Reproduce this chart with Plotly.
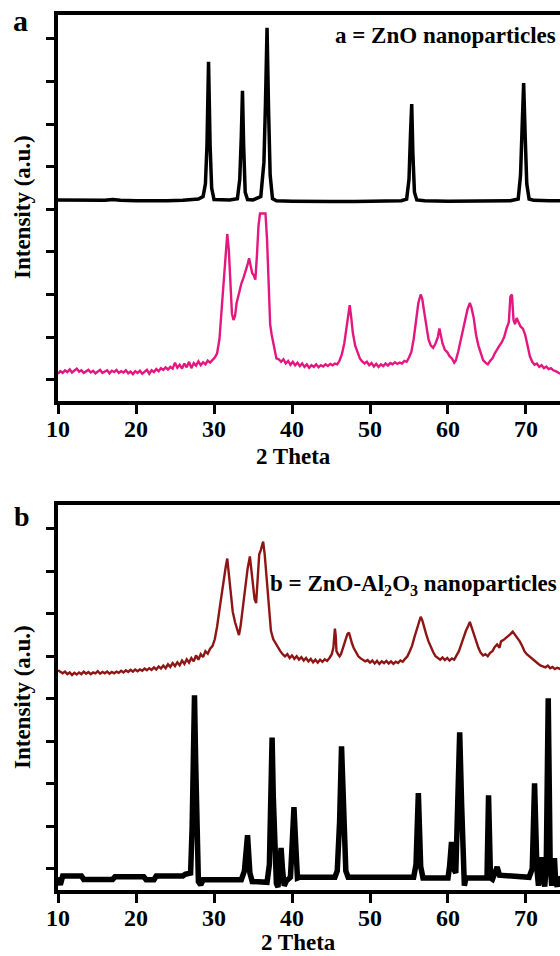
import plotly.graph_objects as go

W, H = 560, 956

# ---------------- Panel a data ----------------
zno_x = [10, 12, 14, 16, 17, 18, 20, 22, 24, 26, 27, 28, 28.6, 28.9, 29.1, 29.3, 29.5, 29.7, 30.0,
         31, 32, 33.0, 33.3, 33.5, 33.65, 33.8, 34.0, 34.3, 35, 36.0, 36.4, 36.6, 36.8, 37.0, 37.2,
         37.5, 38, 40, 42, 45, 48, 50, 52, 54, 54.7, 55.0, 55.2, 55.35, 55.5, 55.7, 56.0, 57, 60,
         63, 66, 68, 69.0, 69.3, 69.5, 69.7, 69.9, 70.1, 70.4, 71, 73, 74.4]
zno_y = [4.72, 4.71, 4.70, 4.71, 4.73, 4.71, 4.70, 4.69, 4.70, 4.71, 4.73, 4.74, 4.80, 5.10, 6.00,
         7.96, 6.00, 5.00, 4.73, 4.72, 4.72, 4.75, 5.20, 6.20, 7.28, 6.00, 4.90, 4.73, 4.72, 4.80,
         5.60, 7.00, 8.76, 6.80, 5.30, 4.75, 4.70, 4.69, 4.68, 4.68, 4.68, 4.69, 4.70, 4.70, 4.74,
         5.20, 6.30, 6.97, 5.80, 4.90, 4.72, 4.70, 4.69, 4.69, 4.69, 4.70, 4.74, 5.30, 6.40, 7.46,
         6.20, 5.10, 4.74, 4.71, 4.70, 4.70]

pink_x = [10.0, 10.3, 10.6, 10.9, 11.2, 11.5, 11.8, 12.1, 12.4, 12.7, 13.0, 13.3, 13.6, 13.9, 14.2,
          14.5, 14.8, 15.1, 15.4, 15.7, 16.0, 16.3, 16.6, 16.9, 17.2, 17.5, 17.8, 18.1, 18.4, 18.7,
          19.0, 19.3, 19.6, 19.9, 20.2, 20.5, 20.8, 21.1, 21.4, 21.7, 22.0, 22.3, 22.6, 22.9, 23.2,
          23.5, 23.8, 24.1, 24.4, 24.7, 25.0, 25.3, 25.6, 25.9, 26.2, 26.5, 26.8, 27.1, 27.4, 27.7,
          28.0, 28.3, 28.6, 28.9, 29.2, 29.5, 29.8, 30.1, 30.4, 30.7, 31.0, 31.3, 31.5, 31.7, 31.9,
          32.1, 32.3, 32.5, 32.7, 32.9, 33.2, 33.5, 33.8, 34.1, 34.3, 34.5, 34.7, 34.9, 35.1, 35.3,
          35.5, 35.7, 35.9, 36.2, 36.6, 36.8, 37.0, 37.2, 37.4, 37.7, 38.0, 38.3, 38.6, 38.9, 39.2,
          39.5, 39.8, 40.1, 40.4, 40.7, 41.0, 41.3, 41.6, 41.9, 42.2, 42.5, 42.8, 43.1, 43.4, 43.7,
          44.0, 44.3, 44.6, 44.9, 45.2, 45.5, 45.8, 46.1, 46.4, 46.7, 47.0, 47.2, 47.4, 47.6, 47.8,
          48.1, 48.4, 48.7, 49.0, 49.3, 49.6, 49.9, 50.2, 50.5, 50.8, 51.1, 51.4, 51.7, 52.0, 52.3,
          52.6, 52.9, 53.2, 53.5, 53.8, 54.1, 54.4, 54.7, 55.0, 55.3, 55.6, 55.9, 56.2, 56.5, 56.7,
          56.9, 57.2, 57.5, 57.8, 58.1, 58.4, 58.7, 58.9, 59.1, 59.3, 59.6, 59.9, 60.2, 60.5, 60.8,
          61.0, 61.3, 61.6, 61.9, 62.2, 62.5, 62.8, 63.0, 63.3, 63.6, 63.9, 64.2, 64.5, 64.8, 65.1,
          65.4, 65.7, 66.0, 66.3, 66.6, 66.9, 67.2, 67.5, 67.8, 68.0, 68.2, 68.4, 68.6, 68.8, 69.0,
          69.3, 69.6, 69.9, 70.2, 70.5, 70.8, 71.1, 71.4, 71.7, 72.0, 72.3, 72.6, 72.9, 73.2, 73.5,
          73.8, 74.1, 74.4]
pink_y = [0.64, 0.70, 0.66, 0.72, 0.68, 0.74, 0.67, 0.71, 0.76, 0.69, 0.72, 0.66, 0.70, 0.73, 0.67,
          0.71, 0.65, 0.69, 0.73, 0.66, 0.70, 0.72, 0.65, 0.71, 0.68, 0.73, 0.66, 0.70, 0.67, 0.72,
          0.65, 0.69, 0.63, 0.70, 0.66, 0.71, 0.64, 0.69, 0.73, 0.64, 0.72, 0.68, 0.75, 0.70, 0.77,
          0.73, 0.79, 0.74, 0.80, 0.76, 0.90, 0.78, 0.85, 0.76, 0.88, 0.79, 0.92, 0.77, 0.89, 0.83,
          0.93, 0.84, 0.91, 0.86, 0.95, 0.90, 0.97, 1.02, 1.12, 1.45, 2.20, 3.00, 3.60, 3.92, 3.55,
          2.60, 2.05, 1.90, 2.00, 2.30, 2.55, 2.75, 2.90, 3.05, 3.20, 3.35, 3.20, 3.00, 2.95, 2.85,
          3.40, 4.10, 4.40, 4.40, 4.40, 3.80, 2.60, 1.80, 1.55, 1.25, 1.00, 0.98, 0.92, 0.98, 0.88,
          0.94, 0.85, 0.92, 0.84, 0.90, 0.82, 0.88, 0.80, 0.86, 0.78, 0.84, 0.80, 0.86, 0.79, 0.84,
          0.81, 0.86, 0.82, 0.87, 0.84, 0.88, 0.86, 0.95, 1.10, 1.35, 1.75, 2.10, 2.25, 1.95, 1.60,
          1.30, 1.12, 1.00, 0.93, 0.88, 0.92, 0.84, 0.89, 0.81, 0.87, 0.80, 0.86, 0.82, 0.88, 0.83,
          0.89, 0.86, 0.91, 0.87, 0.90, 0.88, 0.94, 0.92, 1.02, 1.15, 1.45, 1.90, 2.30, 2.50, 2.40,
          2.15, 1.75, 1.45, 1.30, 1.25, 1.35, 1.50, 1.70, 1.55, 1.35, 1.20, 1.15, 1.05, 1.00, 0.90,
          0.95, 1.15, 1.40, 1.70, 1.95, 2.15, 2.30, 2.20, 1.95, 1.55, 1.30, 1.10, 0.96, 0.90, 0.86,
          0.94, 1.00, 1.12, 1.22, 1.30, 1.38, 1.50, 1.70, 1.85, 2.45, 2.50, 1.90, 1.80, 1.95, 1.85,
          1.75, 1.70, 1.55, 1.30, 1.05, 0.92, 0.85, 0.88, 0.80, 0.84, 0.77, 0.81, 0.75, 0.77, 0.72,
          0.70, 0.67, 0.64]

# ---------------- Panel b data ----------------
znal_x = [10.0, 10.3, 10.6, 10.9, 11.2, 11.5, 11.8, 12.1, 12.4, 12.7, 13.0, 13.3, 13.6, 13.9, 14.2,
          14.5, 14.8, 15.1, 15.4, 15.7, 16.0, 16.3, 16.6, 16.9, 17.2, 17.5, 17.8, 18.1, 18.4, 18.7,
          19.0, 19.3, 19.6, 19.9, 20.2, 20.5, 20.8, 21.1, 21.4, 21.7, 22.0, 22.3, 22.6, 22.9, 23.2,
          23.5, 23.8, 24.1, 24.4, 24.7, 25.0, 25.3, 25.6, 25.9, 26.2, 26.5, 26.8, 27.1, 27.4, 27.7,
          28.0, 28.3, 28.6, 28.9, 29.2, 29.5, 29.8, 30.1, 30.4, 30.7, 31.0, 31.3, 31.5, 31.7, 31.9,
          32.1, 32.4, 32.7, 33.0, 33.2, 33.4, 33.7, 34.0, 34.3, 34.6, 34.8, 35.0, 35.2, 35.4, 35.6,
          35.8, 36.0, 36.3, 36.5, 36.8, 37.0, 37.3, 37.6, 37.9, 38.2, 38.5, 38.8, 39.1, 39.4, 39.7,
          40.0, 40.3, 40.6, 40.9, 41.2, 41.5, 41.8, 42.1, 42.4, 42.7, 43.0, 43.3, 43.6, 43.9, 44.2,
          44.5, 44.8, 45.1, 45.3, 45.5, 45.6, 45.7, 45.9, 46.1, 46.3, 46.6, 46.9, 47.1, 47.3, 47.5,
          47.7, 47.9, 48.2, 48.5, 48.8, 49.1, 49.4, 49.7, 50.0, 50.3, 50.6, 50.9, 51.2, 51.5, 51.8,
          52.1, 52.4, 52.7, 53.0, 53.3, 53.6, 53.9, 54.2, 54.5, 54.8, 55.1, 55.4, 55.7, 56.0, 56.3,
          56.5, 56.7, 56.9, 57.2, 57.5, 57.8, 58.1, 58.4, 58.7, 59.0, 59.3, 59.6, 59.9, 60.2, 60.5,
          60.8, 61.1, 61.4, 61.7, 62.0, 62.3, 62.6, 62.8, 63.0, 63.3, 63.6, 63.9, 64.2, 64.5, 64.8,
          65.1, 65.4, 65.7, 66.0, 66.3, 66.6, 66.8, 67.1, 67.4, 67.7, 68.0, 68.3, 68.6, 68.9, 69.2,
          69.5, 69.8, 70.1, 70.4, 70.7, 71.0, 71.3, 71.6, 71.9, 72.2, 72.5, 72.8, 73.1, 73.4, 73.7,
          74.0, 74.4]
znal_y = [5.17, 5.13, 5.10, 5.14, 5.08, 5.12, 5.06, 5.11, 5.07, 5.12, 5.08, 5.14, 5.09, 5.13, 5.08,
          5.12, 5.10, 5.15, 5.09, 5.13, 5.10, 5.14, 5.09, 5.13, 5.10, 5.14, 5.11, 5.16, 5.12, 5.17,
          5.13, 5.18, 5.14, 5.19, 5.15, 5.19, 5.16, 5.21, 5.17, 5.22, 5.18, 5.24, 5.19, 5.26, 5.21,
          5.28, 5.22, 5.31, 5.25, 5.34, 5.27, 5.36, 5.29, 5.40, 5.32, 5.43, 5.35, 5.46, 5.38, 5.52,
          5.42, 5.55, 5.48, 5.62, 5.56, 5.68, 5.74, 5.90, 6.20, 6.60, 7.00, 7.40, 7.60, 7.80, 7.45,
          6.95, 6.55, 6.30, 6.10, 6.00, 6.20, 6.70, 7.20, 7.55, 7.85, 7.50, 7.10, 6.85, 6.75, 7.30,
          7.90, 8.00, 8.20, 7.90, 7.20, 6.60, 6.10, 5.90, 5.80, 5.70, 5.62, 5.55, 5.50, 5.55, 5.46,
          5.52, 5.44, 5.50, 5.42, 5.48, 5.40, 5.46, 5.38, 5.44, 5.36, 5.42, 5.35, 5.42, 5.37, 5.43,
          5.39, 5.46, 5.55, 5.70, 6.15, 6.00, 5.62, 5.55, 5.50, 5.56, 5.75, 5.90, 6.02, 6.06, 5.90,
          5.80, 5.70, 5.58, 5.50, 5.45, 5.42, 5.38, 5.41, 5.35, 5.40, 5.33, 5.39, 5.32, 5.38, 5.34,
          5.39, 5.33, 5.38, 5.32, 5.37, 5.34, 5.40, 5.37, 5.44, 5.50, 5.62, 5.75, 5.95, 6.15, 6.30,
          6.43, 6.35, 6.20, 6.02, 5.85, 5.70, 5.60, 5.50, 5.46, 5.42, 5.47, 5.41, 5.46, 5.40, 5.45,
          5.42, 5.52, 5.62, 5.78, 5.95, 6.10, 6.22, 6.31, 6.20, 6.02, 5.85, 5.70, 5.58, 5.52, 5.55,
          5.50, 5.58, 5.62, 5.72, 5.78, 5.70, 5.85, 5.88, 5.92, 5.98, 6.02, 6.08, 6.00, 5.95, 5.85,
          5.75, 5.62, 5.55, 5.50, 5.45, 5.42, 5.35, 5.32, 5.28, 5.26, 5.24, 5.28, 5.22, 5.25, 5.20,
          5.23, 5.20]

ref_x = [10.0, 10.3, 10.6, 13.0, 13.3, 17.0, 17.3, 21.0, 21.3, 22.3, 22.6, 26.0, 26.3, 27.0, 27.2,
         27.35, 27.5, 27.65, 27.8, 28.0, 28.3, 28.6, 33.5, 33.9, 34.3, 34.6, 34.9, 36.8, 37.1, 37.3,
         37.45, 37.6, 37.8, 38.0, 38.2, 38.4, 38.6, 38.8, 39.0, 39.3, 39.8, 40.0, 40.25, 40.5, 40.7,
         41.0, 45.5, 45.8, 46.1, 46.35, 46.6, 46.9, 47.2, 55.6, 55.9, 56.2, 56.5, 56.8, 60.0, 60.2,
         60.45, 60.7, 61.0, 61.25, 61.5, 61.75, 61.95, 62.1, 62.3, 65.0, 65.2, 65.45, 65.7, 66.0,
         66.3, 66.6, 69.5, 70.4, 70.8, 71.1, 71.4, 71.6, 71.8, 72.0, 72.2, 72.4, 72.6, 72.85, 73.1,
         73.3, 73.5, 73.65, 73.8, 74.0, 74.2, 74.4]
ref_y = [0.30, 0.12, 0.33, 0.33, 0.25, 0.25, 0.31, 0.31, 0.24, 0.24, 0.33, 0.33, 0.37, 0.40, 1.50,
         3.20, 4.58, 3.00, 1.20, 0.20, 0.12, 0.24, 0.24, 0.45, 1.29, 0.40, 0.20, 0.18, 0.60, 2.00,
         3.59, 2.20, 0.80, 0.15, 0.07, 0.60, 0.99, 0.45, 0.10, 0.22, 0.30, 1.00, 1.95, 1.00, 0.28,
         0.30, 0.30, 0.45, 1.60, 3.38, 1.80, 0.45, 0.30, 0.30, 0.60, 2.28, 0.55, 0.28, 0.28, 0.55,
         1.13, 0.50, 0.40, 2.00, 3.71, 2.00, 0.40, 0.10, 0.28, 0.28, 2.23, 0.28, 0.25, 0.40,
         0.54, 0.35, 0.30, 0.30, 0.50, 2.51, 0.50, 0.10, 0.40, 0.77, 0.30, 0.08, 0.60, 4.51, 0.60,
         0.10, 0.50, 0.75, 0.20, 0.08, 0.30, 0.25]

x_ticks = [10, 20, 30, 40, 50, 60, 70]
X_RANGE = [10, 74.36]
Y_RANGE = [0, 9.06]

FONT = "Liberation Serif"
PINK = "#E3177F"
MAROON = "#8E1515"


def px_y(p):
    return 1 - p / H


fig = go.Figure()
fig.add_trace(go.Scatter(x=zno_x, y=zno_y, mode="lines", line=dict(color="black", width=3.5),
                         xaxis="x", yaxis="y", showlegend=False))
fig.add_trace(go.Scatter(x=pink_x, y=pink_y, mode="lines", line=dict(color=PINK, width=2.4),
                         xaxis="x", yaxis="y", showlegend=False))
fig.add_trace(go.Scatter(x=znal_x, y=znal_y, mode="lines", line=dict(color=MAROON, width=2.4),
                         xaxis="x2", yaxis="y2", showlegend=False))
fig.add_trace(go.Scatter(x=ref_x, y=ref_y, mode="lines", line=dict(color="black", width=5.5),
                         xaxis="x2", yaxis="y2", showlegend=False))

xdom = [58 / W, 1]
common_x = dict(range=X_RANGE, domain=xdom, showgrid=False, zeroline=False, showline=True,
                mirror=True, linecolor="black", linewidth=4, ticks="outside", ticklen=9,
                tickwidth=3, tickcolor="black", tickvals=x_ticks, ticklabelstandoff=-6,
                tickfont=dict(family=FONT, size=24, color="black", weight="bold"),
                automargin=False, fixedrange=True)
common_y = dict(range=Y_RANGE, showgrid=False, zeroline=False, showline=True, mirror=False,
                linecolor="black", linewidth=4, ticks="outside", ticklen=8, tickwidth=3,
                tickcolor="black", tick0=0.5, dtick=1, showticklabels=False, automargin=False,
                fixedrange=True)

fig.update_layout(
    width=W, height=H, margin=dict(l=0, r=0, t=0, b=0),
    paper_bgcolor="white", plot_bgcolor="white",
    xaxis=dict(common_x, anchor="y"),
    yaxis=dict(common_y, anchor="x", domain=[px_y(401), px_y(15)]),
    xaxis2=dict(common_x, anchor="y2"),
    yaxis2=dict(common_y, anchor="x2", domain=[px_y(890), px_y(505)]),
)

tf = dict(family=FONT, color="black", weight="bold")
ann = [
    dict(text="a", x=20 / W, y=px_y(21), font=dict(tf, size=30)),
    dict(text="b", x=22 / W, y=px_y(516), font=dict(tf, size=28)),
    dict(text="a = ZnO nanoparticles", x=558 / W, y=px_y(35), xanchor="right",
         font=dict(tf, size=23)),
    dict(text="b = ZnO-Al<sub>2</sub>O<sub>3</sub> nanoparticles", x=559 / W, y=px_y(585),
         xanchor="right", font=dict(tf, size=23)),
    dict(text="Intensity (a.u.)", x=22 / W, y=px_y(207), textangle=-90, font=dict(tf, size=23)),
    dict(text="Intensity (a.u.)", x=22 / W, y=px_y(697), textangle=-90, font=dict(tf, size=23)),
    dict(text="2 Theta", x=293 / W, y=px_y(456), font=dict(tf, size=23)),
    dict(text="2 Theta", x=298 / W, y=0, yanchor="bottom", borderpad=0, font=dict(tf, size=23)),
]
for a in ann:
    a.setdefault("xanchor", "center")
    a.setdefault("yanchor", "middle")
    a.update(xref="paper", yref="paper", showarrow=False)
fig.update_layout(annotations=ann)

fig.write_html("out.html")
